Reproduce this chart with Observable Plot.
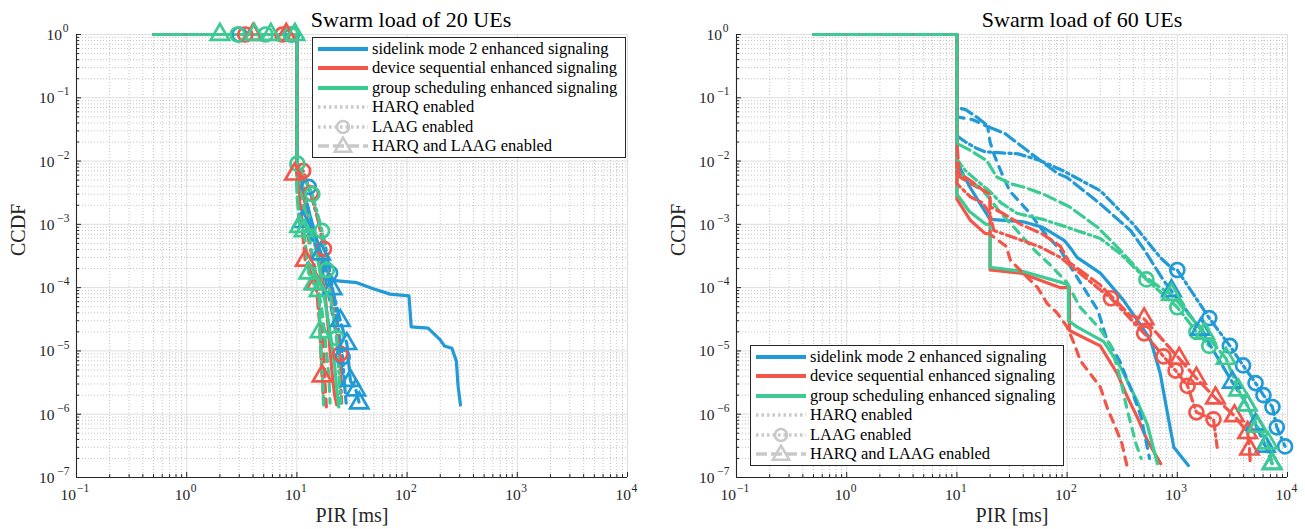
<!DOCTYPE html>
<html>
<head>
<meta charset="utf-8">
<script src="https://cdn.jsdelivr.net/npm/d3@7"></script>
<script src="https://cdn.jsdelivr.net/npm/@observablehq/plot@0.6"></script>
<style>
  html, body { margin: 0; padding: 0; background: #fff; }
  #wrap { position: relative; width: 1305px; height: 529px; display: flex; font-family: "Liberation Serif", serif; }
  .legend { position: absolute; background: #fff; border: 1px solid #262626; box-sizing: border-box; }
  .row { position: absolute; left: 0; height: 20px; line-height: 20px; font-size: 16.5px; color: #000; white-space: nowrap; }
  .row svg { position: absolute; left: 4px; top: 0; }
  .row span { position: absolute; left: 59px; top: 0; }
  svg text.ttl { letter-spacing: 0.5px; }
</style>
</head>
<body>
<div id="wrap"></div>
<script>
// ---------- tick values ----------
const xMajor = [0.1, 1, 10, 100, 1000, 10000];
const yMajor = [1e-7, 1e-6, 1e-5, 1e-4, 1e-3, 1e-2, 1e-1, 1];
const minorMult = [2, 3, 4, 5, 6, 7, 8, 9];

// ---------- legend labels ----------
const schemeLabels = ["sidelink mode 2 enhanced signaling", "device sequential enhanced signaling", "group scheduling enhanced signaling"];
const variantLabels = ["HARQ enabled", "LAAG enabled", "HARQ and LAAG enabled"];
const panelTitles = ["Swarm load of 20 UEs", "Swarm load of 60 UEs"];
const xLabel = "PIR [ms]";
const yLabel = "CCDF";

// ---------- Swarm load 20 UEs : [PIR ms, CCDF] ----------
const l20_sl_base = [[0.5,1],[10,1],[10,8e-3],[11.5,3.5e-3],[13,1.5e-3],[15,6e-4],[17,3e-4],[19,1.8e-4],[21,1.3e-4],[35,1.2e-4],[50,9.5e-5],[70,7.9e-5],[104,7.4e-5],[109,2.4e-5],[155,2.3e-5],[200,1.5e-5],[218,1.2e-5],[255,1.1e-5],[280,6.9e-6],[290,2.8e-6],[305,1.4e-6]];
const l20_sl_harq = [[0.5,1],[10,1],[10,7e-3],[12,2.5e-3],[14,9e-4],[16,4e-4],[18,1.5e-4],[20,6e-5],[22,2.5e-5],[24,1e-5],[26,4e-6],[28,2e-6]];
const l20_sl_laag = [[0.5,1],[10,1],[10,8e-3],[12.8,3.9e-3],[15,1.5e-3],[18,5e-4],[20,1.7e-4],[22,6e-5],[24,2e-5],[26,8e-6],[27,3e-6],[28,1.5e-6]];
const l20_sl_laag_m = [[3,1],[9,1],[12.8,3.9e-3],[20,1.7e-4],[26,8e-6]];
const l20_sl_hl = [[0.5,1],[10,1],[10,4e-3],[11.2,1.1e-3],[16.4,3.4e-4],[20.9,9.6e-5],[24.8,3e-5],[28.4,1.3e-5],[30.6,3.4e-6],[34.3,2.4e-6],[36.8,1.5e-6]];
const l20_sl_hl_m = [[11.2,1.1e-3],[16.4,3.4e-4],[20.9,9.6e-5],[24.8,3e-5],[28.4,1.3e-5],[30.6,3.4e-6],[34.3,2.4e-6],[36.8,1.5e-6]];

const l20_ds_base = [[0.5,1],[10,1],[10,7e-3],[12,2e-3],[14,7e-4],[16,2.5e-4],[18,8e-5],[19,3e-5],[20,1e-5],[21,4e-6],[22,2e-6],[23,1.4e-6]];
const l20_ds_harq = [[0.5,1],[10,1],[10,6e-3],[11,2e-3],[12.5,7e-4],[14,2.5e-4],[15.5,8e-5],[16.5,3e-5],[17.5,1e-5],[18,3e-6],[18.5,1.3e-6]];
const l20_ds_laag = [[0.5,1],[10,1],[10,8.5e-3],[11.4,7e-3],[13.4,3.1e-3],[15.5,1.2e-3],[17.6,4.1e-4],[20,1e-4],[22,3e-5],[24.8,9e-6],[25,3e-6],[25.5,1.5e-6]];
const l20_ds_laag_m = [[3.4,1],[7.4,1],[11.4,7e-3],[13.4,3.1e-3],[17.6,4.1e-4],[24.8,9e-6]];
const l20_ds_hl = [[0.5,1],[10,1],[10,6.5e-3],[11.9,2.7e-4],[14.9,1.15e-4],[16,3e-5],[16.9,4e-6],[17.5,1.5e-6]];
const l20_ds_hl_m = [[4,1],[8,1],[9.5,6.2e-3],[11.9,2.7e-4],[14.9,1.15e-4],[16.9,4e-6]];

const l20_gs_base = [[0.5,1],[10,1],[10,9e-3],[12,2.5e-3],[14,7e-4],[16,2e-4],[18,6e-5],[20,2e-5],[22,6e-6],[23,2.5e-6],[24,1.3e-6]];
const l20_gs_harq = [[0.5,1],[10,1],[10,7e-3],[11.5,2e-3],[13,6e-4],[15,1.5e-4],[17,4e-5],[18.5,1e-5],[19.5,4e-6],[20,1.5e-6]];
const l20_gs_laag = [[0.5,1],[10,1],[10.1,9.1e-3],[13.8,3e-3],[16.9,7.9e-4],[18.7,1.9e-4],[20.5,6e-5],[23,1.6e-5],[24,5e-6],[25,1.5e-6]];
const l20_gs_laag_m = [[2.9,1],[5.2,1],[8.8,1],[10.1,9.1e-3],[13.8,3e-3],[16.9,7.9e-4],[18.7,1.9e-4],[23,1.6e-5]];
const l20_gs_hl = [[0.5,1],[10,1],[10,3e-3],[10.6,9.2e-4],[11.6,7.9e-4],[12.8,1.7e-4],[14.2,1.15e-4],[15.9,9e-5],[16.2,2e-5],[17,4e-6],[17.5,1.4e-6]];
const l20_gs_hl_m = [[2,1],[4.1,1],[5.8,1],[9.6,1],[10.6,9.2e-4],[11.6,7.9e-4],[12.8,1.7e-4],[14.2,1.15e-4],[15.9,9e-5],[16.2,2e-5]];

// ---------- Swarm load 60 UEs : [PIR ms, CCDF] ----------
const r60_sl_base = [[0.5,1],[10,1],[10,1e-2],[11,7e-3],[13,4e-3],[16,2.2e-3],[18,1.6e-3],[20,1.2e-3],[40,1.1e-3],[60,9e-4],[94,5.6e-4],[110,4e-4],[123,3e-4],[200,1.7e-4],[325,6.3e-5],[450,2.8e-5],[571,1.5e-5],[700,4.4e-6],[813,1.05e-6],[930,3e-7],[1260,1.55e-7]];
const r60_sl_harq = [[0.5,1],[10,1],[10,0.05],[14,0.045],[19,0.035],[20,0.02],[22,0.012],[25,7e-3],[30,3.4e-3],[46,1.5e-3],[60,8e-4],[87,3.9e-4],[132,1.2e-4],[190,4.4e-5],[230,1.5e-5],[300,7e-6],[400,2e-6],[470,9e-7],[560,2e-7]];
const r60_sl_laag = [[0.5,1],[10,1],[10,0.025],[12,0.02],[15,0.016],[18,0.014],[36,0.013],[56,0.0103],[91,0.0071],[200,3.4e-3],[400,1e-3],[700,3e-4],[900,2e-4],[1000,1.9e-4],[1950,3.3e-5],[3000,1.2e-5],[3950,5.9e-6],[5130,3.1e-6],[6050,2e-6],[7300,1.3e-6],[8000,6.2e-7],[9500,3.1e-7]];
const r60_sl_laag_m = [[1000,1.9e-4],[1950,3.3e-5],[3000,1.2e-5],[3950,5.9e-6],[5130,3.1e-6],[6050,2e-6],[7300,1.3e-6],[8000,6.2e-7],[9500,3.1e-7]];
const r60_sl_hl = [[0.5,1],[10,1],[10,0.07],[12,0.065],[15,0.05],[20,0.034],[27.5,0.027],[47.5,0.013],[83,6.3e-3],[100,5.5e-3],[200,2.1e-3],[376,8e-4],[500,4e-4],[750,1.3e-4],[885,8.9e-5],[1630,2.2e-5],[3160,3.2e-6],[4300,1.4e-6],[5130,6.9e-7],[6300,3.1e-7],[7250,1.66e-7]];
const r60_sl_hl_m = [[885,8.9e-5],[1630,2.2e-5],[3160,3.2e-6],[4300,1.4e-6],[5130,6.9e-7],[6300,3.1e-7],[7250,1.66e-7]];

const r60_ds_base = [[0.5,1],[10,1],[10,2.5e-3],[13.3,1.15e-3],[18,7.2e-4],[20,7e-4],[20,1.9e-4],[38,1.7e-4],[87,1.0e-4],[105,1e-4],[105,2.1e-5],[200,1.2e-5],[285,4.4e-6],[351,1.9e-6],[433,9e-7],[533,3.9e-7],[708,1.65e-7]];
const r60_ds_harq = [[0.5,1],[10,1],[10,6e-3],[13,4.5e-3],[17.5,3.4e-3],[20,3.2e-3],[20,7e-4],[28,4.5e-4],[30.6,2.7e-4],[54,1e-4],[66,5.6e-5],[81,4e-5],[100,2.4e-5],[116,1.3e-5],[132,7e-6],[200,2.7e-6],[230,1.3e-6],[314,3.5e-7],[350,1.5e-7]];
const r60_ds_laag = [[0.5,1],[10,1],[10,4.4e-3],[13.3,2.7e-3],[17,2.2e-3],[20,1.5e-3],[21.6,8e-4],[57,4.4e-4],[87,3e-4],[189,1e-4],[250,6.8e-5],[500,1.9e-5],[750,8.2e-6],[964,4.9e-6],[1240,2.8e-6],[1490,1.07e-6],[2130,8.3e-7],[2300,3e-7]];
const r60_ds_laag_m = [[250,6.8e-5],[500,1.9e-5],[750,8.2e-6],[964,4.9e-6],[1240,2.8e-6],[1490,1.07e-6],[2130,8.3e-7]];
const r60_ds_hl = [[0.5,1],[10,1],[10,0.02],[10.5,6.3e-3],[13.3,4.9e-3],[17.5,3.4e-3],[20,3e-3],[20,1.9e-3],[26,1.5e-3],[38,1.0e-3],[60,7e-4],[87,4.5e-4],[105,2.5e-4],[200,1.1e-4],[376,3.6e-5],[500,3.2e-5],[1040,7.6e-6],[1490,3.7e-6],[2220,1.8e-6],[3300,9.4e-7],[4350,5.1e-7],[4520,2.8e-7],[4600,1.6e-7]];
const r60_ds_hl_m = [[500,3.2e-5],[1040,7.6e-6],[1490,3.7e-6],[2220,1.8e-6],[3300,9.4e-7],[4350,5.1e-7],[4520,2.8e-7]];

const r60_gs_base = [[0.5,1],[10,1],[10,3.0e-3],[13,1.6e-3],[18.3,1.0e-3],[20,1.0e-3],[20,2.1e-4],[40,1.8e-4],[90,1.2e-4],[103,1.1e-4],[103,3e-5],[123,2.4e-5],[215,1.4e-5],[306,5.5e-6],[433,1.6e-6],[533,7e-7],[660,1.65e-7]];
const r60_gs_harq = [[0.5,1],[10,1],[10,7e-3],[13,5e-3],[17,3.5e-3],[20,2.5e-3],[25,1.5e-3],[35,8e-4],[50,4e-4],[70,2.3e-4],[100,1.2e-4],[130,5e-5],[200,2.2e-5],[250,1.2e-5],[300,4e-6],[350,1.2e-6],[420,3.5e-7],[470,2e-7]];
const r60_gs_laag = [[0.5,1],[10,1],[10,0.0107],[12,7e-3],[15,5e-3],[20,3.3e-3],[25,2.2e-3],[35,1.5e-3],[60,1.2e-3],[100,9e-4],[200,6e-4],[300,3.5e-4],[430,1.9e-4],[524,1.35e-4],[1000,4.9e-5],[1490,2e-5],[1950,1.2e-5]];
const r60_gs_laag_m = [[524,1.35e-4],[1000,4.9e-5],[1490,2e-5],[1950,1.2e-5]];
const r60_gs_hl = [[0.5,1],[10,1],[10,0.019],[13.3,0.0147],[18.7,0.0101],[23,5.6e-3],[30.6,4.4e-3],[40,3.9e-3],[61,3e-3],[105,1.9e-3],[189,9e-4],[300,4e-4],[485,1.6e-4],[700,1e-4],[885,7.8e-5],[1770,1.9e-5],[2770,7.6e-6],[3590,2.4e-6],[4300,1.4e-6],[5340,6.4e-7],[6660,3.5e-7],[7250,1.66e-7]];
const r60_gs_hl_m = [[885,7.8e-5],[1770,1.9e-5],[2770,7.6e-6],[3590,2.4e-6],[4300,1.4e-6],[5340,6.4e-7],[6660,3.5e-7],[7250,1.66e-7]];

// ---------- styling ----------
const colors = ["#219ad6", "#f2564a", "#3ccb92"];
const legendGray = "#c9c9c9";
const dash = { base: null, harq: "8,7", laag: "10,4,2.5,4", hl: "12,5" };

function seriesList(p) {
  const S = p === 0
    ? { sl: [l20_sl_base, l20_sl_harq, l20_sl_laag, l20_sl_laag_m, l20_sl_hl, l20_sl_hl_m],
        ds: [l20_ds_base, l20_ds_harq, l20_ds_laag, l20_ds_laag_m, l20_ds_hl, l20_ds_hl_m],
        gs: [l20_gs_base, l20_gs_harq, l20_gs_laag, l20_gs_laag_m, l20_gs_hl, l20_gs_hl_m] }
    : { sl: [r60_sl_base, r60_sl_harq, r60_sl_laag, r60_sl_laag_m, r60_sl_hl, r60_sl_hl_m],
        ds: [r60_ds_base, r60_ds_harq, r60_ds_laag, r60_ds_laag_m, r60_ds_hl, r60_ds_hl_m],
        gs: [r60_gs_base, r60_gs_harq, r60_gs_laag, r60_gs_laag_m, r60_gs_hl, r60_gs_hl_m] };
  return [S.sl, S.ds, S.gs];
}

const expo = v => { const k = Math.round(Math.log10(v)); return k < 0 ? "\u2212" + Math.abs(k) : String(k); };

function minorOf(majors) {
  const out = [];
  for (let i = 0; i < majors.length - 1; i++) for (const m of minorMult) out.push(majors[i] * m);
  return out;
}
const xMinor = minorOf(xMajor);
const yMinor = minorOf(yMajor);
const xNeg = xMajor.filter(v => v < 1), xPos = xMajor.filter(v => v >= 1);
const yNeg = yMajor.filter(v => v < 1), yPos = yMajor.filter(v => v >= 1);

function panel(p, width, mL, mR, titleDx) {
  const mT = 34, mB = 52, height = 529;
  const fw = width - mL - mR, fh = height - mT - mB;
  const groups = seriesList(p);
  const X = d => d[0], Y = d => d[1], I = d => d;
  const tk = { fill: "#262626" };
  const marks = [
    Plot.ruleX(xMinor, { stroke: "#bdbdbd", strokeDasharray: "1,2", strokeWidth: 0.9 }),
    Plot.ruleY(yMinor, { stroke: "#bdbdbd", strokeDasharray: "1,2", strokeWidth: 0.9 }),
    Plot.ruleX(xMajor, { stroke: "#dedede", strokeWidth: 1 }),
    Plot.ruleY(yMajor, { stroke: "#dedede", strokeWidth: 1 })
  ];
  const order = [["base", 0], ["harq", 1], ["laag", 2], ["hl", 4]];
  for (const [kind, idx] of order) {
    groups.forEach((g, c) => {
      marks.push(Plot.line(g[idx], { x: X, y: Y, stroke: colors[c], strokeWidth: 3.2, strokeDasharray: dash[kind], strokeLinejoin: "round" }));
    });
  }
  groups.forEach((g, c) => {
    marks.push(Plot.dot(g[3], { x: X, y: Y, symbol: "circle", r: 7, stroke: colors[c], strokeWidth: 2.7, fill: "none" }));
  });
  groups.forEach((g, c) => {
    marks.push(Plot.dot(g[5], { x: X, y: Y, symbol: "triangle", r: 6.8, stroke: colors[c], strokeWidth: 2.7, fill: "none" }));
  });
  marks.push(
    Plot.ruleX(xMajor, { stroke: "#262626", insetTop: fh - 5 }),
    Plot.ruleX(xMinor, { stroke: "#262626", insetTop: fh - 3 }),
    Plot.ruleY(yMajor, { stroke: "#262626", insetRight: fw - 5 }),
    Plot.ruleY(yMinor, { stroke: "#262626", insetRight: fw - 3 }),
    Plot.ruleX([xMajor[0]], { stroke: "#262626", strokeWidth: 1.1 }),
    Plot.ruleY([yMajor[0]], { stroke: "#262626", strokeWidth: 1.1 }),
    // x tick labels: 10 with superscript exponent
    Plot.text(xNeg, { x: I, frameAnchor: "bottom", text: () => "10", textAnchor: "end", lineAnchor: "middle", dx: -0.5, dy: 18, fontSize: 15.5, ...tk }),
    Plot.text(xNeg, { x: I, frameAnchor: "bottom", text: expo, textAnchor: "start", lineAnchor: "middle", dx: 0.5, dy: 11, fontSize: 11.5, ...tk }),
    Plot.text(xPos, { x: I, frameAnchor: "bottom", text: () => "10", textAnchor: "end", lineAnchor: "middle", dx: 3.5, dy: 18, fontSize: 15.5, ...tk }),
    Plot.text(xPos, { x: I, frameAnchor: "bottom", text: expo, textAnchor: "start", lineAnchor: "middle", dx: 4, dy: 11, fontSize: 11.5, ...tk }),
    // y tick labels
    Plot.text(yNeg, { y: I, frameAnchor: "left", text: () => "10", textAnchor: "end", lineAnchor: "middle", dx: -22, dy: 0.5, fontSize: 15.5, ...tk }),
    Plot.text(yNeg, { y: I, frameAnchor: "left", text: expo, textAnchor: "end", lineAnchor: "middle", dx: -7, dy: -6, fontSize: 11.5, ...tk }),
    Plot.text(yPos, { y: I, frameAnchor: "left", text: () => "10", textAnchor: "end", lineAnchor: "middle", dx: -14.5, dy: 0.5, fontSize: 15.5, ...tk }),
    Plot.text(yPos, { y: I, frameAnchor: "left", text: expo, textAnchor: "end", lineAnchor: "middle", dx: -8, dy: -6, fontSize: 11.5, ...tk }),
    Plot.text([panelTitles[p]], { frameAnchor: "top", lineAnchor: "middle", dx: titleDx, dy: -15, fontSize: 22, fill: "#000", className: "ttl" }),
    Plot.text([xLabel], { frameAnchor: "bottom", lineAnchor: "middle", dy: 38, fontSize: 20, fill: "#262626", className: "ttl" }),
    Plot.text([yLabel], { frameAnchor: "left", lineAnchor: "middle", rotate: -90, dx: -58, fontSize: 20, fill: "#262626", className: "ttl" })
  );
  return Plot.plot({
    width, height, marginLeft: mL, marginRight: mR, marginTop: mT, marginBottom: mB,
    x: { type: "log", domain: [xMajor[0], xMajor[xMajor.length - 1]], axis: null },
    y: { type: "log", domain: [yMajor[0], yMajor[yMajor.length - 1]], axis: null },
    style: { fontFamily: "Liberation Serif, serif", background: "#fff", overflow: "visible" },
    marks
  });
}

const wrap = document.getElementById("wrap");
wrap.appendChild(panel(0, 652, 76, 25, 59));
wrap.appendChild(panel(1, 653, 84, 18, 70));

// ---------- legends ----------
function legend(left, top) {
  const box = document.createElement("div");
  box.className = "legend";
  Object.assign(box.style, { left: left + "px", top: top + "px", width: "314px", height: "121px" });
  const items = [
    ...schemeLabels.map((t, i) => ({ t, stroke: colors[i], dash: null, w: 4.2, m: null })),
    { t: variantLabels[0], stroke: legendGray, dash: "2.5,3", w: 3.5, m: null },
    { t: variantLabels[1], stroke: legendGray, dash: "2.5,3", w: 3.5, m: "circle" },
    { t: variantLabels[2], stroke: legendGray, dash: "11,4", w: 3.5, m: "triangle" }
  ];
  items.forEach((it, i) => {
    const row = document.createElement("div");
    row.className = "row";
    row.style.top = (1 + i * 19.4) + "px";
    const ns = "http://www.w3.org/2000/svg";
    const s = document.createElementNS(ns, "svg");
    s.setAttribute("width", "52"); s.setAttribute("height", "20");
    const ln = document.createElementNS(ns, "line");
    ln.setAttribute("x1", "1"); ln.setAttribute("x2", "51"); ln.setAttribute("y1", "10"); ln.setAttribute("y2", "10");
    ln.setAttribute("stroke", it.stroke); ln.setAttribute("stroke-width", it.w);
    if (it.dash) ln.setAttribute("stroke-dasharray", it.dash);
    s.appendChild(ln);
    if (it.m === "circle") {
      const c = document.createElementNS(ns, "circle");
      c.setAttribute("cx", "26"); c.setAttribute("cy", "10"); c.setAttribute("r", "6");
      c.setAttribute("fill", "none"); c.setAttribute("stroke", legendGray); c.setAttribute("stroke-width", "2.6");
      s.appendChild(c);
    } else if (it.m === "triangle") {
      const pth = document.createElementNS(ns, "path");
      pth.setAttribute("d", d3.symbol(d3.symbolTriangle, 115)());
      pth.setAttribute("transform", "translate(26,11)");
      pth.setAttribute("fill", "none"); pth.setAttribute("stroke", legendGray); pth.setAttribute("stroke-width", "2.6");
      s.appendChild(pth);
    }
    row.appendChild(s);
    const sp = document.createElement("span");
    sp.textContent = it.t;
    row.appendChild(sp);
    box.appendChild(row);
  });
  wrap.appendChild(box);
}
legend(312, 37);
legend(750, 345);
</script>
</body>
</html>
